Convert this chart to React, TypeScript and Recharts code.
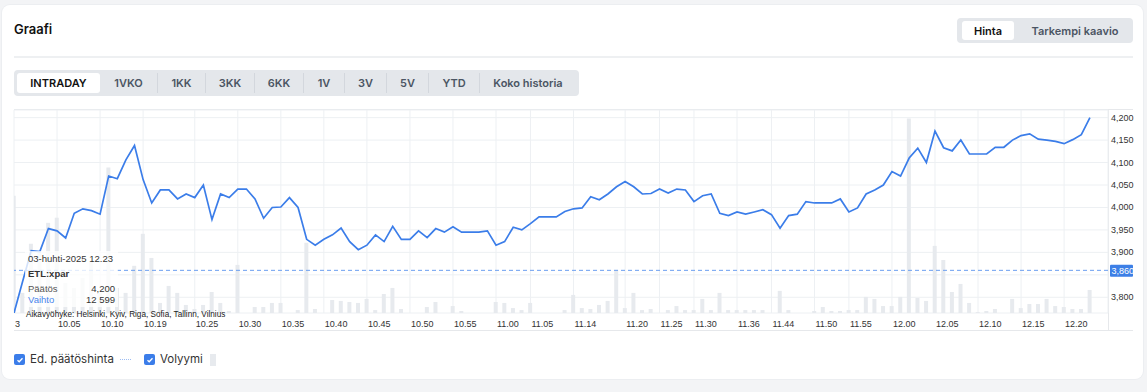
import React from 'react'
import {
  ComposedChart,
  Line,
  Bar,
  XAxis,
  YAxis,
  CartesianGrid,
  ReferenceLine,
} from 'recharts'

// minute timestamps of the intraday points (only minutes with trades)
const times = [
  '10.00', '10.01', '10.02', '10.03', '10.04', '10.05', '10.06', '10.07', '10.08', '10.09',
  '10.10', '10.12', '10.14', '10.16', '10.17', '10.19', '10.20', '10.21', '10.22', '10.23',
  '10.24', '10.25', '10.26', '10.27', '10.28', '10.29', '10.30', '10.31', '10.32', '10.33',
  '10.34', '10.35', '10.36', '10.37', '10.38', '10.39', '10.40', '10.41', '10.42', '10.43',
  '10.44', '10.45', '10.46', '10.47', '10.48', '10.49', '10.50', '10.51', '10.52', '10.53',
  '10.54', '10.55', '10.56', '10.57', '10.58', '10.59', '11.00', '11.01', '11.03', '11.04',
  '11.05', '11.07', '11.09', '11.11', '11.13', '11.14', '11.15', '11.16', '11.17', '11.18',
  '11.19', '11.20', '11.21', '11.22', '11.24', '11.25', '11.26', '11.27', '11.29', '11.30',
  '11.31', '11.32', '11.34', '11.35', '11.36', '11.38', '11.40', '11.42', '11.44', '11.45',
  '11.46', '11.47', '11.49', '11.50', '11.51', '11.52', '11.54', '11.55', '11.56', '11.57',
  '11.58', '11.59', '12.00', '12.01', '12.02', '12.03', '12.04', '12.05', '12.06', '12.07',
  '12.08', '12.09', '12.10', '12.11', '12.12', '12.13', '12.14', '12.15', '12.16', '12.17',
  '12.18', '12.19', '12.20', '12.21', '12.22', '12.23',
]

const prices = [
  3.765, 3.835, 3.904, 3.902, 3.953, 3.948, 3.932, 3.987, 3.997, 3.993,
  3.985, 4.07, 4.064, 4.106, 4.138, 4.062, 4.01, 4.039, 4.039, 4.019,
  4.03, 4.022, 4.05, 3.973, 4.03, 4.022, 4.041, 4.041, 4.019, 3.976,
  4.0, 4.001, 4.022, 4.0, 3.929, 3.916, 3.929, 3.939, 3.954, 3.924,
  3.906, 3.916, 3.939, 3.924, 3.958, 3.929, 3.929, 3.948, 3.933, 3.953,
  3.945, 3.957, 3.945, 3.945, 3.945, 3.948, 3.916, 3.924, 3.956, 3.95,
  3.964, 3.979, 3.979, 3.979, 3.991, 3.997, 3.999, 4.024, 4.017, 4.03,
  4.046, 4.058, 4.046, 4.03, 4.031, 4.041, 4.032, 4.041, 4.039, 4.013,
  4.026, 4.03, 3.987, 3.982, 3.99, 3.985, 3.99, 3.995, 3.984, 3.954,
  3.982, 3.985, 4.013, 4.01, 4.01, 4.01, 4.019, 3.99, 3.999, 4.03,
  4.039, 4.05, 4.08, 4.07, 4.11, 4.132, 4.1, 4.17, 4.133, 4.126,
  4.15, 4.119, 4.119, 4.119, 4.134, 4.134, 4.15, 4.16, 4.164, 4.152,
  4.15, 4.147, 4.142, 4.151, 4.162, 4.2,
]

const volumes = [
  64100, 11000, 37800, 34000, 49300, 52100, 16400, 13700, 19200, 28500,
  11000, 79500, 13700, 11000, 25800, 43300, 30100, 5500, 14800, 11000,
  4400, 2200, 4400, 11500, 5500, 1100, 26300, 0, 3300, 3300,
  5500, 5500, 0, 1600, 38400, 2200, 0, 7100, 6600, 6000,
  5500, 7700, 1600, 10400, 13700, 2200, 0, 0, 3300, 6000,
  0, 3800, 1100, 0, 0, 0, 6000, 5500, 2700, 1600,
  5500, 0, 0, 0, 1600, 9900, 2700, 2200, 4400, 6600,
  23600, 2700, 11000, 1600, 2200, 0, 1600, 3800, 1600, 1600,
  7700, 1600, 11000, 1600, 1600, 1600, 1600, 1600, 0, 12100,
  1600, 0, 0, 1100, 3300, 1100, 1100, 1600, 1600, 8800,
  7700, 3800, 3800, 8800, 106300, 8200, 6600, 36700, 29000, 11500,
  15900, 5500, 500, 1100, 2200, 0, 7700, 2700, 4900, 4900,
  7700, 3800, 3300, 2200, 2200, 12599,
]

const tickTimes = [
  '10.00', '10.05', '10.10', '10.19', '10.25', '10.30', '10.35', '10.40', '10.45',
  '10.50', '10.55', '11.00', '11.05', '11.14', '11.20', '11.25', '11.30', '11.36',
  '11.44', '11.50', '11.55', '12.00', '12.05', '12.10', '12.15', '12.20',
]
const dayLabel = '3'
const priceTicks = [3.8, 3.85, 3.9, 3.95, 4.0, 4.05, 4.1, 4.15, 4.2]
const prevClose = 3.86

const tabs = ['INTRADAY', '1VKO', '1KK', '3KK', '6KK', '1V', '3V', '5V', 'YTD', 'Koko historia']
const tabWidths = [83, 57, 48, 49, 49, 41, 42, 42, 51, 97]

const rows = times.map((t, i) => ({ idx: i, time: t, price: prices[i], vol: volumes[i] }))
const tickIdx = tickTimes.map((t) => times.indexOf(t))
const last = rows[rows.length - 1]

const fmt = (v: number) => v.toFixed(3).replace('.', ',')
const fmtVol = (v: number) => String(v).replace(/\B(?=(\d{3})+(?!\d))/g, ' ')

const UI = 'Inter, "Noto Sans", sans-serif'
const CHART_FONT = '"Liberation Sans", Arial, sans-serif'
const BLUE = '#3b7de9'

function XTick({ x, payload }: any) {
  const i = payload.value
  return (
    <text x={x + 1} y={327} fontSize={9} fill="#333" fontFamily={CHART_FONT}>
      {i === 0 ? dayLabel : times[i]}
    </text>
  )
}

function PriceTick({ y, payload }: any) {
  // the label sitting under the previous-close tag is covered by it
  if (Math.abs(payload.value - prevClose) < 0.02) return <g />
  return (
    <text x={1111} y={y + 3} fontSize={9} fill="#333" fontFamily={CHART_FONT}>
      {fmt(payload.value)}
    </text>
  )
}

function PrevTag({ viewBox }: any) {
  if (!viewBox) return null
  const x = viewBox.x + viewBox.width + 2
  const y = viewBox.y
  return (
    <g>
      <rect x={x} y={y - 5.5} width={23} height={12} fill="#3d7fe6" rx={1} />
      <text x={x + 1.5} y={y + 4} fontSize={9} fill="#fff" fontFamily={CHART_FONT}>
        {fmt(prevClose)}
      </text>
    </g>
  )
}

function Checkbox({ left }: { left: number }) {
  return (
    <div
      style={{
        position: 'absolute', left, top: 354, width: 11, height: 11, borderRadius: 2,
        background: '#3b7de9', display: 'flex', alignItems: 'center', justifyContent: 'center',
      }}
    >
      <svg width="8" height="8" viewBox="0 0 8 8">
        <path d="M1.5 4.2 L3.2 5.8 L6.5 2.3" stroke="#fff" strokeWidth="1.3" fill="none" />
      </svg>
    </div>
  )
}

export default function App() {
  return (
    <div
      style={{
        position: 'absolute', left: 0, top: 0, width: 1147, height: 392,
        background: '#f3f4f6', fontFamily: UI, overflow: 'hidden',
      }}
    >
      <div
        style={{
          position: 'absolute', left: 2, top: 5, width: 1141, height: 374,
          background: '#fff', borderRadius: 8, boxShadow: '0 0 0 1px #eceef1',
        }}
      />

      {/* header */}
      <div style={{ position: 'absolute', left: 14, top: 21, fontSize: 13, fontWeight: 600, color: '#111' }}>
        Graafi
      </div>
      <div
        style={{
          position: 'absolute', left: 957, top: 18, width: 176, height: 25,
          background: '#e4e7eb', borderRadius: 4,
        }}
      >
        <div
          style={{
            position: 'absolute', left: 5, top: 3, width: 52, height: 19, background: '#fff',
            borderRadius: 3, fontSize: 11, fontWeight: 600, color: '#111',
            display: 'flex', alignItems: 'center', justifyContent: 'center',
          }}
        >
          Hinta
        </div>
        <div
          style={{
            position: 'absolute', left: 62, top: 3, width: 112, height: 19, fontSize: 11,
            fontWeight: 600, color: '#4b5563', display: 'flex', alignItems: 'center', justifyContent: 'center',
          }}
        >
          Tarkempi kaavio
        </div>
      </div>
      <div style={{ position: 'absolute', left: 14, top: 56, width: 1119, height: 2, background: '#eef0f2' }} />

      {/* period tabs */}
      <div
        style={{
          position: 'absolute', left: 14, top: 70, width: 565, height: 26,
          background: '#e4e7eb', borderRadius: 4,
        }}
      >
        <div style={{ position: 'absolute', left: 3, top: 3, height: 20, display: 'flex' }}>
          {tabs.map((t, i) => (
            <div
              key={t}
              style={{
                width: tabWidths[i], height: 20, boxSizing: 'border-box',
                display: 'flex', alignItems: 'center', justifyContent: 'center',
                fontSize: 11, fontWeight: 600,
                color: i === 0 ? '#111' : '#4b5563',
                background: i === 0 ? '#fff' : 'transparent',
                borderRadius: i === 0 ? 3 : 0,
                borderLeft: i > 1 ? '1px solid #d3d7dd' : 'none',
              }}
            >
              {t}
            </div>
          ))}
        </div>
      </div>

      {/* chart frame */}
      <div style={{ position: 'absolute', left: 14, top: 109, width: 1119, height: 1, background: '#e6e8eb' }} />
      <div style={{ position: 'absolute', left: 14, top: 330, width: 1119, height: 1, background: '#e6e8eb' }} />
      <div style={{ position: 'absolute', left: 1108, top: 109, width: 1, height: 222, background: '#e6e8eb' }} />

      <div style={{ position: 'absolute', left: 0, top: 0 }}>
        <ComposedChart
          width={1147}
          height={340}
          data={rows}
          margin={{ top: 110, right: 9, bottom: 7, left: 14 }}
        >
          <CartesianGrid stroke="#edf0f3" yAxisId="price" />
          <XAxis
            dataKey="idx"
            type="number"
            domain={[0, 127.1]}
            ticks={tickIdx}
            interval={0}
            height={20}
            axisLine={false}
            tickLine={false}
            tick={<XTick />}
            allowDataOverflow
          />
          <YAxis
            yAxisId="price"
            orientation="right"
            domain={[3.765, 4.217]}
            ticks={priceTicks}
            interval={0}
            width={30}
            axisLine={false}
            tickLine={false}
            tick={<PriceTick />}
            allowDataOverflow
          />
          <YAxis yAxisId="vol" hide domain={[0, 111000]} allowDataOverflow />
          <Bar dataKey="vol" yAxisId="vol" fill="#e7eaee" barSize={4} isAnimationActive={false} />
          <ReferenceLine
            y={prevClose}
            yAxisId="price"
            stroke="#6a9ef0"
            strokeDasharray="4 3"
            label={(p: any) => <PrevTag {...p} />}
          />
          <Line
            dataKey="price"
            yAxisId="price"
            type="linear"
            stroke={BLUE}
            strokeWidth={1.7}
            dot={false}
            isAnimationActive={false}
          />
        </ComposedChart>
      </div>

      {/* static tooltip of the latest point */}
      <div
        style={{
          position: 'absolute', left: 25, top: 251, width: 93, height: 56,
          background: 'rgba(255,255,255,0.78)', fontFamily: CHART_FONT, fontSize: 9.5, color: '#333',
        }}
      >
        <div style={{ position: 'absolute', left: 3, top: 2 }}>03-huhti-2025 {last.time}</div>
        <div style={{ position: 'absolute', left: 3, top: 17, fontWeight: 700 }}>ETL:xpar</div>
        <div style={{ position: 'absolute', left: 3, top: 32, color: '#555' }}>Päätös</div>
        <div style={{ position: 'absolute', right: 3, top: 32, color: '#333' }}>{fmt(last.price)}</div>
        <div style={{ position: 'absolute', left: 3, top: 43, color: '#4a86ec' }}>Vaihto</div>
        <div style={{ position: 'absolute', right: 3, top: 43, color: '#333' }}>{fmtVol(last.vol)}</div>
      </div>
      <div
        style={{
          position: 'absolute', left: 26, top: 310, fontFamily: CHART_FONT, fontSize: 8.2, color: '#222',
        }}
      >
        Aikavyöhyke: Helsinki, Kyiv, Riga, Sofia, Tallinn, Vilnius
      </div>

      {/* legend */}
      <Checkbox left={14} />
      <div style={{ position: 'absolute', left: 30, top: 352, fontSize: 11.5, color: '#333' }}>Ed. päätöshinta</div>
      <div style={{ position: 'absolute', left: 120, top: 359, width: 11, borderTop: '1.5px dotted #9dbdf3' }} />
      <Checkbox left={144} />
      <div style={{ position: 'absolute', left: 160, top: 352, fontSize: 11.5, color: '#333' }}>Volyymi</div>
      <div style={{ position: 'absolute', left: 210, top: 354, width: 6, height: 12, background: '#e7eaee' }} />
    </div>
  )
}
